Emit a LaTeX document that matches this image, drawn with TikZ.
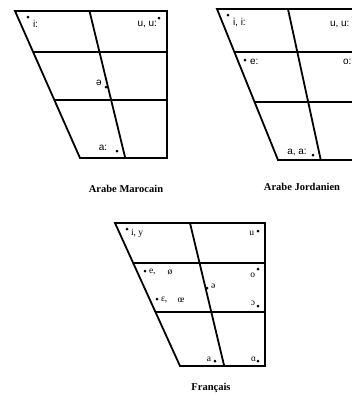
\documentclass[tikz,border=0pt]{standalone}
\usepackage{fontspec}
\setmainfont{Liberation Serif}
\newfontfamily\etiqfont{Liberation Sans}
\usetikzlibrary{calc}
\begin{document}
\begin{tikzpicture}[x=1pt,y=-1pt,
  every node/.style={font=\fontsize{9.5}{10}\selectfont,inner sep=0pt,outer sep=0pt},
  cadre/.style={line width=1.8pt},
  sans/.style={font=\fontsize{10}{11}\selectfont\etiqfont},
  titre/.style={font=\fontsize{10.5}{12}\selectfont\bfseries}]
  \clip (0,0) rectangle (352,394);
  % Arabe Marocain
  \coordinate (A1) at (15,11);
  \coordinate (B1) at (167,11);
  \coordinate (C1) at (167,158);
  \coordinate (D1) at (80,158);
  \draw[cadre] (A1)--(B1)--(C1)--(D1)--cycle;
  \draw[cadre] ($(A1)!.28!(D1)$)--($(B1)!.28!(C1)$) ($(A1)!.605!(D1)$)--($(B1)!.605!(C1)$);
  \draw[cadre] ($(A1)!.49!(B1)$)--($(D1)!.52!(C1)$);
  \fill (28,17) circle (1.5);
  \fill (159,18) circle (1.5);
  \fill (106,87) circle (1.5);
  \fill (117,151) circle (1.5);
  \node[sans,anchor=west] (mi) at (33,24) {i:};
  \node[sans,anchor=east] (mu) at (157,24) {u, u:};
  \node[sans] (mschwa) at (99,83) {ə};
  \node[sans] (ma) at (103,148) {a:};
  \node[titre] (tm) at (126,189) {Arabe Marocain};
  % Arabe Jordanien
  \coordinate (A2) at (217,9);
  \coordinate (B2) at (369,9);
  \coordinate (C2) at (369,160);
  \coordinate (D2) at (278,160);
  \draw[cadre] (A2)--(B2)--(C2)--(D2)--cycle;
  \draw[cadre] ($(A2)!.285!(D2)$)--($(B2)!.285!(C2)$) ($(A2)!.616!(D2)$)--($(B2)!.616!(C2)$);
  \draw[cadre] ($(A2)!.467!(B2)$)--($(D2)!.47!(C2)$);
  \fill (228,15) circle (1.5);
  \fill (353,17) circle (1.5);
  \fill (245,60) circle (1.5);
  \fill (313,155) circle (1.5);
  \node[sans,anchor=west] (ji) at (233,23) {i, i:};
  \node[sans,anchor=west] (ju) at (330,24) {u, u:};
  \node[sans,anchor=west] (je) at (250,62) {e:};
  \node[sans,anchor=west] (jo) at (343,62) {o:};
  \node[sans] (ja) at (297,152) {a, a:};
  \node[titre] (tj) at (302,187) {Arabe Jordanien};
  % Francais
  \coordinate (A3) at (115,223);
  \coordinate (B3) at (265,223);
  \coordinate (C3) at (265,366);
  \coordinate (D3) at (180,366);
  \draw[cadre] (A3)--(B3)--(C3)--(D3)--cycle;
  \draw[cadre] ($(A3)!.28!(D3)$)--($(B3)!.28!(C3)$) ($(A3)!.622!(D3)$)--($(B3)!.622!(C3)$);
  \draw[cadre] ($(A3)!.5!(B3)$)--($(D3)!.52!(C3)$);
  \fill (127,229) circle (1.5);
  \fill (258,231) circle (1.5);
  \fill (145,271) circle (1.5);
  \fill (157,299) circle (1.5);
  \fill (207,288) circle (1.5);
  \fill (258,269) circle (1.5);
  \fill (258,306) circle (1.5);
  \fill (215,361) circle (1.5);
  \fill (258,361) circle (1.5);
  \node[anchor=west] (fi) at (131,233) {i, y};
  \node[anchor=east] (fu) at (254,233) {u};
  \node[anchor=west] (fe) at (149,272) {e,};
  \node (foe) at (170,272) {ø};
  \node[anchor=west] (feps) at (161,300) {ɛ,};
  \node (foe2) at (181,300) {œ};
  \node[anchor=west] (fschwa) at (211,286) {ə};
  \node[anchor=east] (fo) at (255,275) {o};
  \node[anchor=east] (fopen) at (255,303) {ɔ};
  \node[anchor=east] (fa) at (211,359) {a};
  \node[anchor=east] (falpha) at (256,359) {ɑ};
  \node[titre] (tf) at (211,388) {Français};
\end{tikzpicture}
\end{document}
